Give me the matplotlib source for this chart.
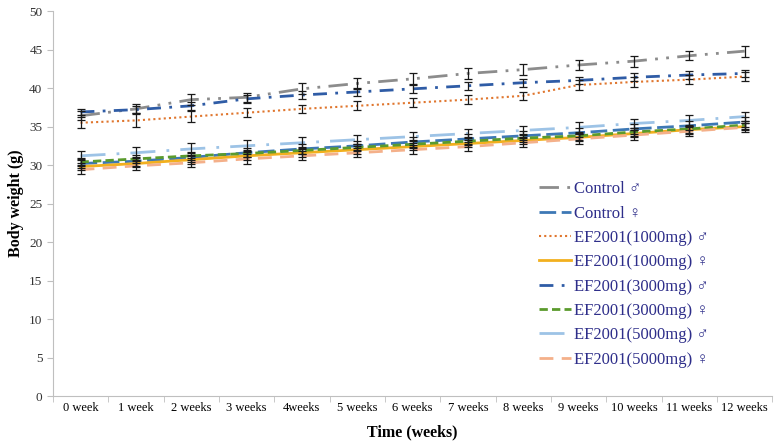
import numpy as np
import matplotlib.pyplot as plt

# Body weight over time
weeks = ['0 week', '1 week', '2 weeks', '3 weeks', '4weeks', '5 weeks', '6 weeks',
         '7 weeks', '8 weeks', '9 weeks', '10 weeks', '11 weeks', '12 weeks']

control_m = [36.4, 37.3, 38.5, 38.8, 39.9, 40.6, 41.2, 41.9, 42.4, 43.0, 43.5, 44.2, 44.8]
control_f = [30.2, 30.5, 31.0, 31.6, 32.1, 32.5, 33.0, 33.4, 33.8, 34.2, 34.7, 35.1, 35.6]
ef1000_m = [35.5, 35.8, 36.3, 36.8, 37.3, 37.7, 38.1, 38.5, 39.0, 40.4, 40.8, 41.1, 41.5]
ef1000_f = [29.8, 30.2, 30.7, 31.2, 31.6, 32.0, 32.4, 32.8, 33.2, 33.6, 34.1, 34.6, 35.0]
ef3000_m = [36.9, 37.2, 37.7, 38.6, 39.1, 39.5, 39.9, 40.3, 40.7, 41.0, 41.4, 41.7, 41.9]
ef3000_f = [30.4, 30.8, 31.2, 31.5, 31.9, 32.3, 32.7, 33.1, 33.5, 33.8, 34.3, 34.7, 35.2]
ef5000_m = [31.2, 31.6, 32.1, 32.5, 32.9, 33.3, 33.7, 34.1, 34.5, 34.9, 35.4, 35.8, 36.3]
ef5000_f = [29.4, 29.9, 30.3, 30.8, 31.2, 31.6, 32.0, 32.4, 32.9, 33.4, 33.9, 34.4, 34.9]

err_control_m = [0.6, 0.6, 0.7, 0.6, 0.7, 0.7, 0.7, 0.7, 0.7, 0.7, 0.7, 0.6, 0.7]
err_control_f = [0.6, 0.6, 0.6, 0.6, 0.6, 0.6, 0.6, 0.6, 0.6, 0.6, 0.6, 0.6, 0.6]
err_ef1000_m = [0.7, 0.8, 0.7, 0.6, 0.5, 0.6, 0.6, 0.6, 0.5, 0.6, 0.6, 0.6, 0.6]
err_ef1000_f = [0.5, 0.5, 0.5, 0.5, 0.5, 0.5, 0.5, 0.5, 0.5, 0.5, 0.5, 0.5, 0.5]
err_ef3000_m = [0.4, 0.5, 0.5, 0.5, 0.5, 0.5, 0.5, 0.5, 0.5, 0.5, 0.5, 0.5, 0.5]
err_ef3000_f = [0.5, 0.5, 0.5, 0.5, 0.5, 0.5, 0.5, 0.5, 0.5, 0.5, 0.5, 0.5, 0.5]
err_ef5000_m = [0.6, 0.7, 0.8, 0.7, 0.7, 0.6, 0.6, 0.6, 0.6, 0.7, 0.6, 0.7, 0.6]
err_ef5000_f = [0.6, 0.6, 0.6, 0.6, 0.6, 0.6, 0.6, 0.6, 0.6, 0.6, 0.6, 0.6, 0.6]

labels = ['Control \u2642', 'Control \u2640', 'EF2001(1000mg) \u2642', 'EF2001(1000mg) \u2640',
          'EF2001(3000mg) \u2642', 'EF2001(3000mg) \u2640', 'EF2001(5000mg) \u2642', 'EF2001(5000mg) \u2640']

plt.rcParams['font.family'] = ['Liberation Serif', 'DejaVu Sans']

fig = plt.figure(figsize=(7.77, 4.44), dpi=100)
ax = fig.add_axes([0.068, 0.108, 0.926, 0.867])
x = np.arange(len(weeks))

series = [
    (control_m, err_control_m, '#8c8c8c', (0, (7, 3, 1, 3, 1, 3)), 2.0),
    (control_f, err_control_f, '#3d78b5', (0, (6, 2)), 2.0),
    (ef1000_m, err_ef1000_m, '#e0762e', (0, (1, 1.5)), 1.5),
    (ef1000_f, err_ef1000_f, '#f2b01e', '-', 2.0),
    (ef3000_m, err_ef3000_m, '#2f5ca6', (0, (5, 3, 1, 3)), 2.0),
    (ef3000_f, err_ef3000_f, '#5b9b2d', (0, (3, 1.5)), 2.0),
    (ef5000_m, err_ef5000_m, '#9dc3e6', (0, (9, 4, 1, 4)), 2.0),
    (ef5000_f, err_ef5000_f, '#f4b08a', (0, (5, 3)), 2.0),
]

for (vals, err, col, ls, lw), lab in zip(series, labels):
    ax.plot(x, vals, color=col, linestyle=ls, linewidth=lw, label=lab, zorder=2)
    ax.errorbar(x, vals, yerr=err, fmt='none', ecolor='#1a1a1a', elinewidth=0.9,
                capsize=3, capthick=0.9, zorder=3)

ax.set_xlim(-0.5, len(weeks) - 0.5)
ax.set_ylim(0, 50)
ax.set_yticks(range(0, 51, 5))
ax.set_xticks(x)
ax.set_xticklabels(weeks)
ax.set_xticks(np.arange(-0.5, len(weeks), 1), minor=True)
ax.tick_params(axis='x', which='major', length=0, labelsize=9, pad=4)
ax.tick_params(axis='x', which='minor', length=4, color='#bfbfbf')
ax.tick_params(axis='y', length=4, color='#bfbfbf', labelsize=9.5, labelcolor='#333333')
for s in ['top', 'right']:
    ax.spines[s].set_visible(False)
for s in ['left', 'bottom']:
    ax.spines[s].set_color('#bfbfbf')

ax.set_xlabel('Time (weeks)', fontsize=11.5, fontweight='bold', labelpad=8)
ax.set_ylabel('Body weight (g)', fontsize=11.5, fontweight='bold')
ax.yaxis.set_label_coords(-0.04, 0.5)

leg = ax.legend(loc='upper left', bbox_to_anchor=(0.655, 0.597), frameon=False,
                fontsize=12, handlelength=1.9, handletextpad=0.2, labelspacing=0.5)
for t in leg.get_texts():
    t.set_color('#2e2e8a')

fig.savefig('out.png', dpi=100)
